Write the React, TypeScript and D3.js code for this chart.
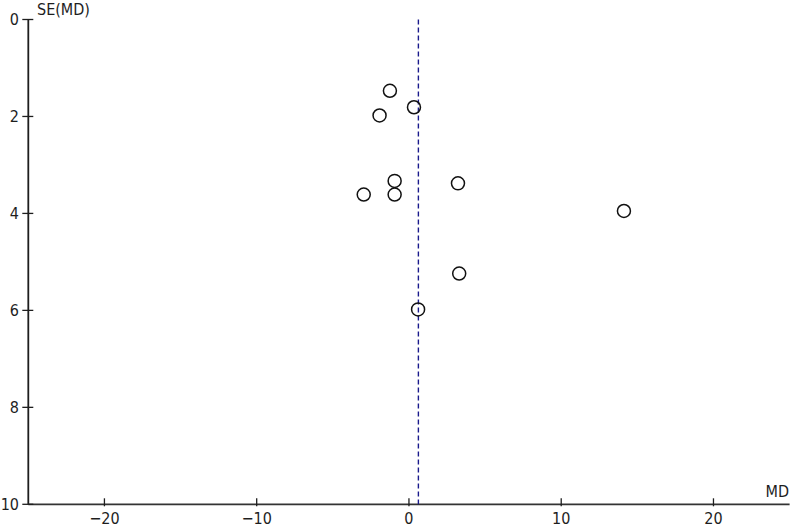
import { useRef, useEffect } from 'react';
import { select, scaleLinear } from 'd3';

const mdValues = [-1.25, 0.33, -1.93, -0.94, -2.97, -0.94, 3.22, 14.12, 3.3, 0.6];
const seValues = [1.47, 1.81, 1.98, 3.33, 3.61, 3.61, 3.38, 3.95, 5.24, 5.98];
const pooledMd = 0.62;
const xTicks = [-20, -10, 0, 10, 20];
const yTicks = [0, 2, 4, 6, 8, 10];

const fmt = (v: number) => (v < 0 ? `\u2212${Math.abs(v)}` : `${v}`);

export default function App() {
  const svgRef = useRef<SVGSVGElement>(null);

  useEffect(() => {
    if (!svgRef.current) return;
    const svg = select(svgRef.current);
    svg.selectAll('*').remove();

    const width = 792;
    const height = 527;
    const x = scaleLinear().domain([-25, 25]).range([28.3, 789.6]);
    const y = scaleLinear().domain([0, 10]).range([19.5, 504.3]);
    const font = "'DejaVu Sans Condensed', 'DejaVu Sans', sans-serif";
    const fs = 16;
    const ink = '#1e1e1e';

    svg.attr('width', width).attr('height', height);

    const txt = (sel: any) => sel
      .attr('font-family', font).attr('font-size', fs).attr('font-stretch', 'condensed')
      .attr('fill', ink);

    // Axes
    svg.append('line')
      .attr('x1', x(-25)).attr('x2', x(-25)).attr('y1', y(0)).attr('y2', y(10))
      .attr('stroke', ink).attr('stroke-width', 1.8);
    svg.append('line')
      .attr('x1', x(-25)).attr('x2', x(25)).attr('y1', y(10)).attr('y2', y(10))
      .attr('stroke', '#333').attr('stroke-width', 1.8);

    // Y ticks
    const yt = svg.append('g');
    yt.selectAll('line').data(yTicks).join('line')
      .attr('x1', x(-25) - 6).attr('x2', x(-25) + 5)
      .attr('y1', d => y(d)).attr('y2', d => y(d))
      .attr('stroke', ink).attr('stroke-width', 1.3);
    yt.selectAll('text').data(yTicks).join('text')
      .attr('x', 19).attr('y', d => y(d) + 5.5)
      .attr('text-anchor', 'end').call(txt).text(d => fmt(d));

    // X ticks
    const xt = svg.append('g');
    xt.selectAll('line').data(xTicks).join('line')
      .attr('x1', d => x(d)).attr('x2', d => x(d))
      .attr('y1', y(10) - 6).attr('y2', y(10) + 2)
      .attr('stroke', ink).attr('stroke-width', 1.3);
    xt.selectAll('text').data(xTicks).join('text')
      .attr('x', d => x(d)).attr('y', 523.5)
      .attr('text-anchor', 'middle').call(txt).text(d => fmt(d));

    // Axis titles
    svg.append('text').attr('x', 37).attr('y', 15).call(txt).text('SE(MD)');
    svg.append('text').attr('x', 789).attr('y', 497).attr('text-anchor', 'end')
      .call(txt).text('MD');

    // Pooled estimate
    svg.append('line')
      .attr('x1', x(pooledMd)).attr('x2', x(pooledMd)).attr('y1', y(0)).attr('y2', y(10))
      .attr('stroke', '#1a1a8c').attr('stroke-width', 1.4).attr('stroke-dasharray', '5,3');

    // Studies
    svg.append('g').selectAll('circle').data(mdValues).join('circle')
      .attr('cx', d => x(d)).attr('cy', (_, i) => y(seValues[i]))
      .attr('r', 6.5).attr('fill', 'none').attr('stroke', '#111').attr('stroke-width', 1.5);
  }, []);

  return (
    <div style={{ position: 'absolute', left: 0, top: 0, background: '#fff' }}>
      <svg ref={svgRef} style={{ display: 'block' }} />
    </div>
  );
}
